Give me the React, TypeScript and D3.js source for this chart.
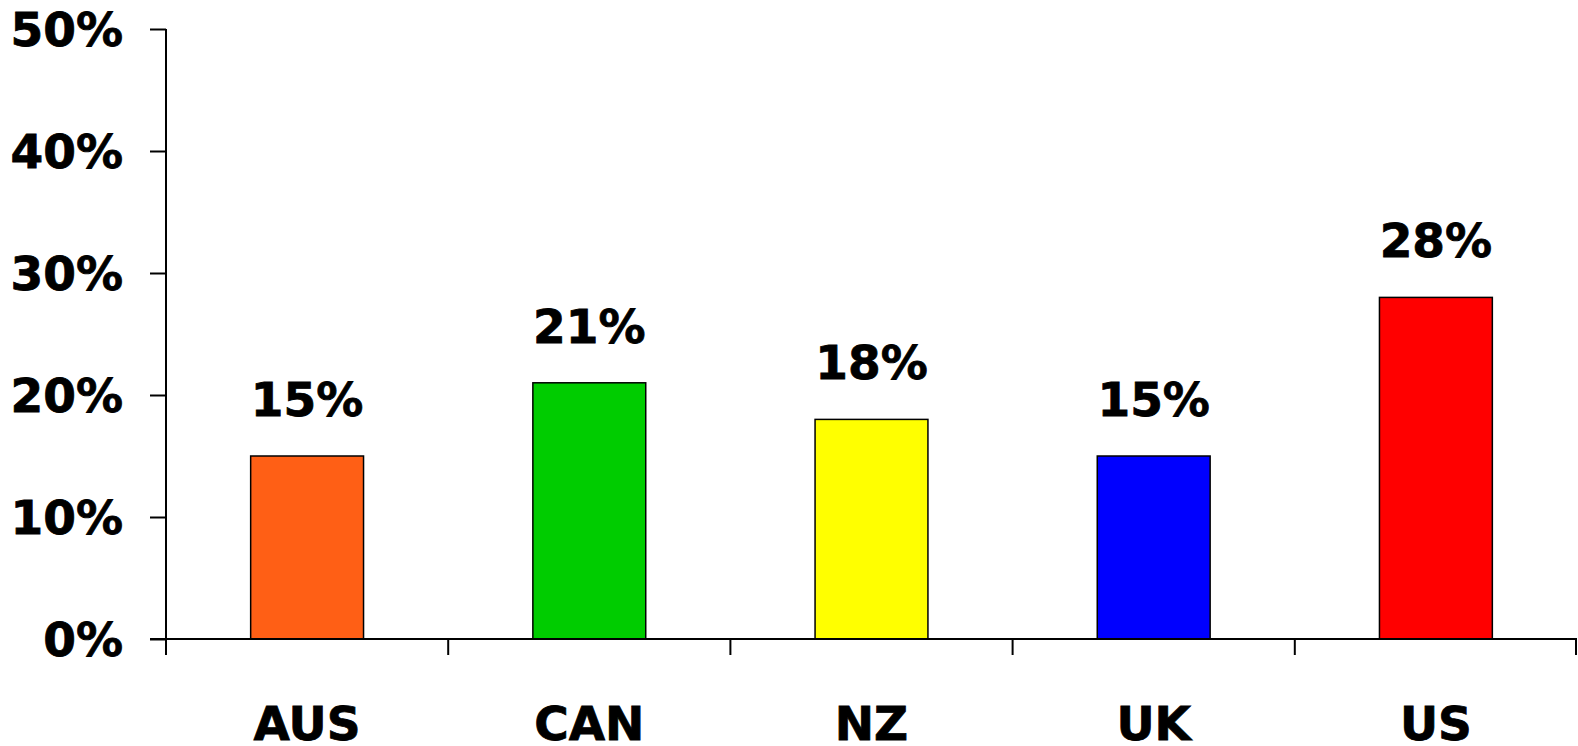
import React, { useRef, useEffect } from 'react';
import * as d3 from 'd3';

const countries = ['AUS', 'CAN', 'NZ', 'UK', 'US'];
const shares = [15, 21, 18, 15, 28];
const barColors = ['#ff5f15', '#00cc00', '#ffff00', '#0000ff', '#ff0000'];
const yTicks = [0, 10, 20, 30, 40, 50];

function App() {
  const chartRef = useRef<SVGSVGElement>(null);

  useEffect(() => {
    const width = 1578;
    const height = 746;
    const svg = d3.select(chartRef.current);
    svg.selectAll('*').remove();

    // plot area edges
    const left = 166;
    const right = 1577;
    const top = 29;
    const bottom = 639;

    const font = '"DejaVu Sans", Arial, sans-serif';
    const fontSize = 47;

    const x = d3.scaleBand().domain(countries).range([left, right]).paddingInner(0).paddingOuter(0);
    const y = d3.scaleLinear().domain([0, 50]).range([bottom, top]);
    const barW = x.bandwidth() * 0.4;

    const data = countries.map((c, i) => ({ name: c, value: shares[i], color: barColors[i] }));

    // bars
    svg.selectAll('.bar')
      .data(data)
      .enter()
      .append('rect')
      .attr('class', 'bar')
      .attr('x', d => x(d.name)! + (x.bandwidth() - barW) / 2)
      .attr('y', d => y(d.value))
      .attr('width', barW)
      .attr('height', d => y(0) - y(d.value))
      .attr('fill', d => d.color)
      .attr('stroke', '#000')
      .attr('stroke-width', 1.5);

    // value labels
    svg.selectAll('.val')
      .data(data)
      .enter()
      .append('text')
      .attr('class', 'val')
      .attr('x', d => x(d.name)! + x.bandwidth() / 2)
      .attr('y', d => y(d.value) - 40)
      .attr('text-anchor', 'middle')
      .attr('font-family', font)
      .attr('font-weight', 'bold')
      .attr('font-size', fontSize)
      .attr('stroke', '#000')
      .attr('stroke-width', 0.8)
      .attr('fill', '#000')
      .text(d => d.value + '%');

    // y axis
    const yAxis = d3.axisLeft(y).tickValues(yTicks).tickSize(16).tickPadding(27).tickFormat(d => d + '%');
    const yg = svg.append('g').attr('transform', `translate(${left},0)`).call(yAxis);
    yg.select('.domain').attr('stroke-width', 2).attr('d', `M0,${top}V${bottom}`);
    yg.selectAll('.tick line').attr('stroke-width', 2);
    yg.selectAll('.tick text')
      .attr('font-family', font)
      .attr('font-weight', 'bold')
      .attr('font-size', fontSize)
      .attr('stroke', '#000')
      .attr('stroke-width', 0.8)
      .attr('fill', '#000')
      .attr('dy', '0.36em');

    // x axis: category boundary ticks
    const xg = svg.append('g');
    xg.append('line')
      .attr('x1', left - 16).attr('x2', right)
      .attr('y1', bottom).attr('y2', bottom)
      .attr('stroke', '#000').attr('stroke-width', 2);
    const bounds = countries.map(c => x(c)!).concat([right - 1]);
    xg.selectAll('.xt')
      .data(bounds)
      .enter()
      .append('line')
      .attr('x1', d => d).attr('x2', d => d)
      .attr('y1', bottom).attr('y2', bottom + 16)
      .attr('stroke', '#000').attr('stroke-width', 2);
    xg.selectAll('.xl')
      .data(countries)
      .enter()
      .append('text')
      .attr('x', d => x(d)! + x.bandwidth() / 2)
      .attr('y', 740)
      .attr('text-anchor', 'middle')
      .attr('font-family', font)
      .attr('font-weight', 'bold')
      .attr('font-size', fontSize)
      .attr('stroke', '#000')
      .attr('stroke-width', 0.8)
      .attr('fill', '#000')
      .text(d => d);

    svg.attr('width', width).attr('height', height);
  }, []);

  return (
    <svg
      ref={chartRef}
      width={1578}
      height={746}
      style={{ position: 'absolute', left: 0, top: 0, background: '#fff', overflow: 'hidden' }}
    ></svg>
  );
}

export default App;
